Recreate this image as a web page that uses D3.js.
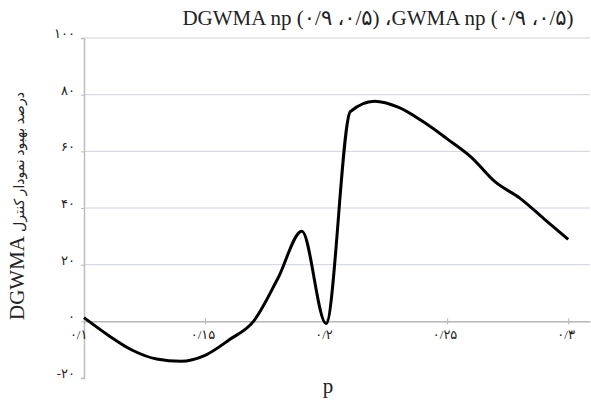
<!DOCTYPE html>
<html>
<head>
<meta charset="utf-8">
<script src="https://cdn.jsdelivr.net/npm/d3@7"></script>
<style>
  body { margin: 0; background: #fff; }
  svg { display: block; }
</style>
</head>
<body>
<svg id="chart"></svg>
<script>
// data (p = 0.10 .. 0.30)
const pValues = [0.10, 0.11, 0.12, 0.13, 0.14, 0.15, 0.16, 0.17, 0.18, 0.19, 0.20,
                 0.21, 0.22, 0.23, 0.24, 0.25, 0.26, 0.27, 0.28, 0.29, 0.30];
const improvement = [1.3, -4.9, -10.2, -13.3, -14.1, -12, -6.5, 0, 15, 31.8, -0.8,
                     74, 77.7, 75.5, 70.5, 64.4, 57.9, 49.1, 43.5, 36.2, 28.9];

const xTicks = [0.1, 0.15, 0.2, 0.25, 0.3];
const xTickLabels = ['۰/۱', '۰/۱۵', '۰/۲', '۰/۲۵', '۰/۳'];
const yTicks = [-20, 0, 20, 40, 60, 80, 100];
const yTickLabels = ['-۲۰', '۰', '۲۰', '۴۰', '۶۰', '۸۰', '۱۰۰'];

const titleText = 'DGWMA np (۰/۹ ،۰/۵) ،GWMA np (۰/۹ ،۰/۵)';
const yTitleLatin = 'DGWMA';
const yTitlePersian = 'درصد بهبود نمودار کنترل';
const xTitle = 'p';

const W = 591, H = 402;
const margin = { top: 38, right: 1, bottom: 24, left: 84 };

const svg = d3.select('#chart').attr('width', W).attr('height', H);

const x = d3.scaleLinear().domain([0.1, 0.309]).range([margin.left, W - margin.right]);
const y = d3.scaleLinear().domain([-20, 100]).range([H - margin.bottom, margin.top]);

const serif = '"Liberation Serif", "DejaVu Sans", serif';

// gridlines
svg.append('g')
  .selectAll('line')
  .data(yTicks.filter(d => d !== 0 && d !== -20))
  .enter().append('line')
  .attr('x1', x.range()[0]).attr('x2', x.range()[1])
  .attr('y1', d => y(d)).attr('y2', d => y(d))
  .attr('stroke', '#cfd2e4').attr('stroke-width', 1);

// y axis
const yAxis = svg.append('g')
  .attr('transform', `translate(${margin.left},0)`)
  .call(d3.axisLeft(y).tickValues(yTicks).tickSize(3).tickPadding(6)
    .tickFormat((d, i) => yTickLabels[i]));
yAxis.select('.domain').attr('stroke', '#bdbdbd').attr('stroke-width', 1.5);
yAxis.selectAll('.tick line').attr('stroke', '#bdbdbd');
yAxis.selectAll('.tick text')
  .style('font-family', serif).style('font-size', '13px').attr('fill', '#222')
  .attr('dy', '-0.05em');

// x axis at zero
const xAxis = svg.append('g')
  .attr('transform', `translate(0,${y(0)})`)
  .call(d3.axisBottom(x).tickValues(xTicks).tickSize(0).tickPadding(8)
    .tickFormat((d, i) => xTickLabels[i]));
xAxis.select('.domain').attr('stroke', '#b5b5b5').attr('stroke-width', 1.5);
xAxis.selectAll('.tick').append('line')
  .attr('y1', -3).attr('y2', 3).attr('stroke', '#b5b5b5');
xAxis.selectAll('.tick text')
  .style('font-family', serif).style('font-size', '13px').attr('fill', '#222')
  .attr('dx', (d, i) => i === 0 ? '-0.45em' : '-0.2em');

// curve
const line = d3.line()
  .x((d, i) => x(pValues[i]))
  .y(d => y(d))
  .curve(d3.curveMonotoneX);

svg.append('path')
  .datum(improvement)
  .attr('fill', 'none')
  .attr('stroke', '#000')
  .attr('stroke-width', 3)
  .attr('stroke-linejoin', 'round')
  .attr('d', line);

// title
svg.append('text')
  .attr('x', 378).attr('y', 25)
  .attr('text-anchor', 'middle')
  .style('unicode-bidi', 'bidi-override')
  .style('direction', 'ltr')
  .style('font-family', serif).style('font-size', '21px').attr('fill', '#222')
  .text(titleText);

// y axis title
const yt = svg.append('text')
  .attr('transform', `translate(24,${206}) rotate(-90)`)
  .attr('text-anchor', 'middle')
  .style('font-family', serif).attr('fill', '#222');
yt.append('tspan').style('font-size', '21px').text(yTitleLatin + ' ');
yt.append('tspan').style('font-size', '14px').text(yTitlePersian);

// x axis title
svg.append('text')
  .attr('x', 328).attr('y', 393)
  .attr('text-anchor', 'middle')
  .style('font-family', serif).style('font-size', '21px').attr('fill', '#222')
  .text(xTitle);
</script>
</body>
</html>
